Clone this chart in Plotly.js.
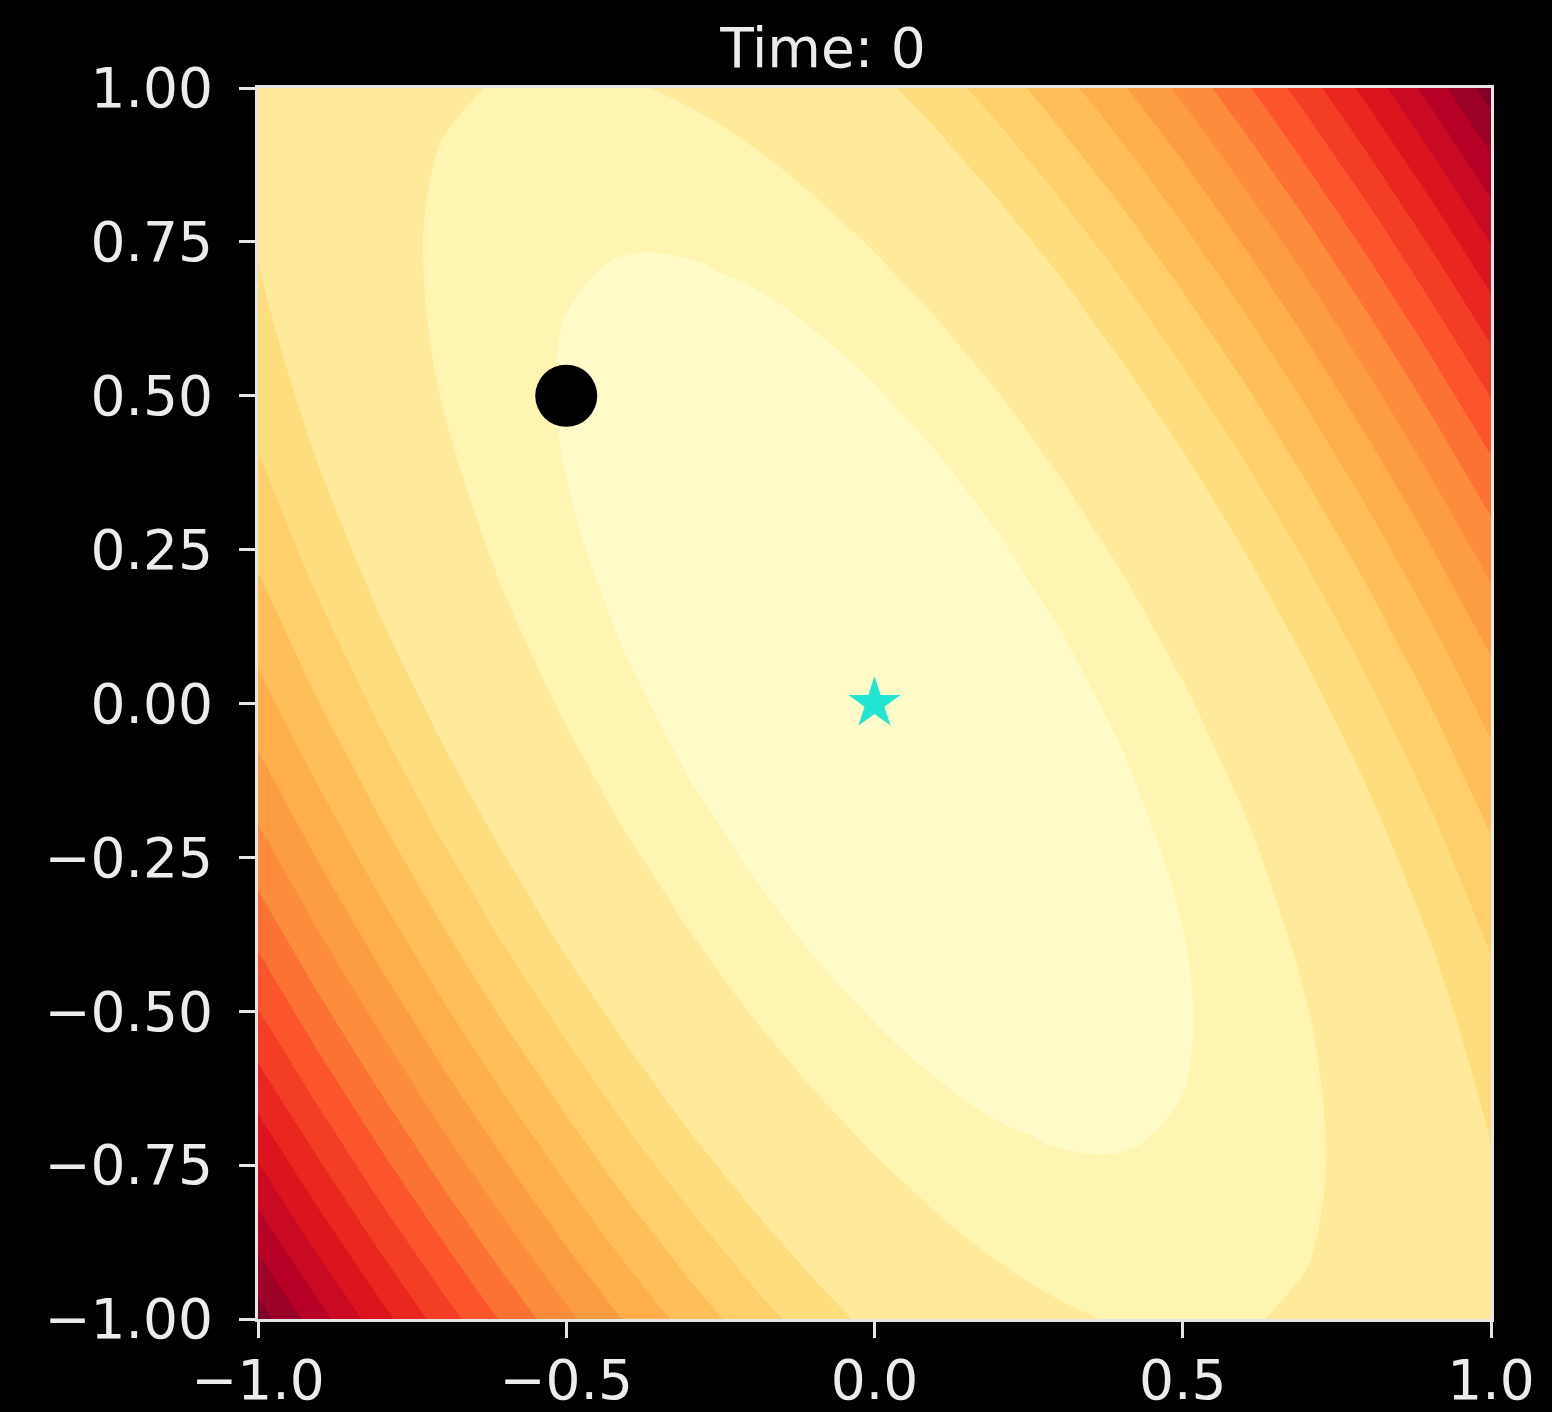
<!DOCTYPE html>
<html>
<head>
<meta charset="utf-8">
<script src="https://cdn.plot.ly/plotly-3.0.1.min.js"></script>
<style>
html, body { margin: 0; padding: 0; background: #000000; }
#chart { width: 1552px; height: 1412px; }
</style>
</head>
<body>
<div id="chart"></div>
<script>
// ---- data ----
const titleText = 'Time: 0';

const xGrid = [-1.0,-0.9,-0.8,-0.7,-0.6,-0.5,-0.4,-0.3,-0.2,-0.1,0.0,0.1,0.2,0.3,0.4,0.5,0.6,0.7,0.8,0.9,1.0];
const yGrid = [-1.0,-0.9,-0.8,-0.7,-0.6,-0.5,-0.4,-0.3,-0.2,-0.1,0.0,0.1,0.2,0.3,0.4,0.5,0.6,0.7,0.8,0.9,1.0];

// surface height (arbitrary units), rows from y = -1 (first) to y = 1 (last)
const zGrid = [
  [500,442,388,338,292,250,212,178,148,122,100,82,68,58,52,50,52,58,68,82,100],
  [461,405,353,305,261,221,185,153,125,101,81,65,53,45,41,41,45,53,65,81,101],
  [424,370,320,274,232,194,160,130,104,82,64,50,40,34,32,34,40,50,64,82,104],
  [389,337,289,245,205,169,137,109,85,65,49,37,29,25,25,29,37,49,65,85,109],
  [356,306,260,218,180,146,116,90,68,50,36,26,20,18,20,26,36,50,68,90,116],
  [325,277,233,193,157,125,97,73,53,37,25,17,13,13,17,25,37,53,73,97,125],
  [296,250,208,170,136,106,80,58,40,26,16,10,8,10,16,26,40,58,80,106,136],
  [269,225,185,149,117,89,65,45,29,17,9,5,5,9,17,29,45,65,89,117,149],
  [244,202,164,130,100,74,52,34,20,10,4,2,4,10,20,34,52,74,100,130,164],
  [221,181,145,113,85,61,41,25,13,5,1,1,5,13,25,41,61,85,113,145,181],
  [200,162,128,98,72,50,32,18,8,2,0,2,8,18,32,50,72,98,128,162,200],
  [181,145,113,85,61,41,25,13,5,1,1,5,13,25,41,61,85,113,145,181,221],
  [164,130,100,74,52,34,20,10,4,2,4,10,20,34,52,74,100,130,164,202,244],
  [149,117,89,65,45,29,17,9,5,5,9,17,29,45,65,89,117,149,185,225,269],
  [136,106,80,58,40,26,16,10,8,10,16,26,40,58,80,106,136,170,208,250,296],
  [125,97,73,53,37,25,17,13,13,17,25,37,53,73,97,125,157,193,233,277,325],
  [116,90,68,50,36,26,20,18,20,26,36,50,68,90,116,146,180,218,260,306,356],
  [109,85,65,49,37,29,25,25,29,37,49,65,85,109,137,169,205,245,289,337,389],
  [104,82,64,50,40,34,32,34,40,50,64,82,104,130,160,194,232,274,320,370,424],
  [101,81,65,53,45,41,41,45,53,65,81,101,125,153,185,221,261,305,353,405,461],
  [100,82,68,58,52,50,52,58,68,82,100,122,148,178,212,250,292,338,388,442,500]
];

// contour levels (same units as zGrid)
const levelStart = 27;
const levelEnd = 486;
const levelStep = 27;

// current point (black dot) and optimum (star)
const pointX = [-0.5];
const pointY = [0.5];
const optimumX = [0.0];
const optimumY = [0.0];

const xTickVals = [-1.0, -0.5, 0.0, 0.5, 1.0];
const xTickText = ['\u22121.0', '\u22120.5', '0.0', '0.5', '1.0'];
const yTickVals = [-1.0, -0.75, -0.5, -0.25, 0.0, 0.25, 0.5, 0.75, 1.0];
const yTickText = ['\u22121.00', '\u22120.75', '\u22120.50', '\u22120.25', '0.00', '0.25', '0.50', '0.75', '1.00'];

// ---- styling: one fill colour per band (lowest band first), as seen in the picture ----
const bandColors = [
  '#fffbc9', '#fff5b2', '#ffe99a', '#ffe99a', '#fedd7f', '#fecf6a',
  '#febf5a', '#feae4a', '#fd9d43', '#fd8d3c', '#fc7134', '#fc552c',
  '#f43d25', '#e9261f', '#db141e', '#ca0923', '#b60026', '#9b0026', '#800026'
];
const bandScale = bandColors.map((c, i) => [i / (bandColors.length - 1), c]);

const textColor = '#ececec';
const fontFamily = 'DejaVu Sans, sans-serif';

const traces = [
  {
    type: 'contour',
    x: xGrid, y: yGrid, z: zGrid,
    colorscale: bandScale,
    showscale: false,
    autocontour: false,
    contours: { start: levelStart, end: levelEnd, size: levelStep, coloring: 'fill', showlines: false },
    line: { width: 0, smoothing: 1.3 },
    hoverinfo: 'skip'
  },
  {
    type: 'scatter', mode: 'markers',
    x: pointX, y: pointY,
    marker: { color: '#000000', size: 62, line: { width: 0 } },
    hoverinfo: 'skip'
  },
  {
    type: 'scatter', mode: 'markers',
    x: optimumX, y: optimumY,
    marker: { color: '#22e4d2', size: 39, symbol: 'star', line: { width: 0 } },
    hoverinfo: 'skip'
  }
];

const axisCommon = {
  showgrid: false, zeroline: false,
  showline: true, mirror: true, linecolor: '#e6e6e6', linewidth: 3,
  ticks: 'outside', ticklen: 16, tickwidth: 3, tickcolor: '#e6e6e6',
  tickfont: { family: fontFamily, size: 55, color: textColor },
  tickmode: 'array'
};

const layout = {
  width: 1552, height: 1412,
  paper_bgcolor: '#000000', plot_bgcolor: '#000000',
  showlegend: false,
  margin: { l: 258, r: 61, t: 88, b: 93, pad: 0 },
  title: {
    text: titleText,
    font: { family: fontFamily, size: 55, color: textColor },
    xref: 'container', yref: 'container',
    x: 823 / 1552, xanchor: 'center',
    y: 1 - 48 / 1412, yanchor: 'middle'
  },
  xaxis: Object.assign({}, axisCommon, {
    range: [-1, 1], tickvals: xTickVals, ticktext: xTickText, ticklabelstandoff: -5
  }),
  yaxis: Object.assign({}, axisCommon, {
    range: [-1, 1], tickvals: yTickVals, ticktext: yTickText, ticklabelstandoff: 15
  })
};

Plotly.newPlot('chart', traces, layout, { displayModeBar: false, staticPlot: true });
</script>
</body>
</html>
